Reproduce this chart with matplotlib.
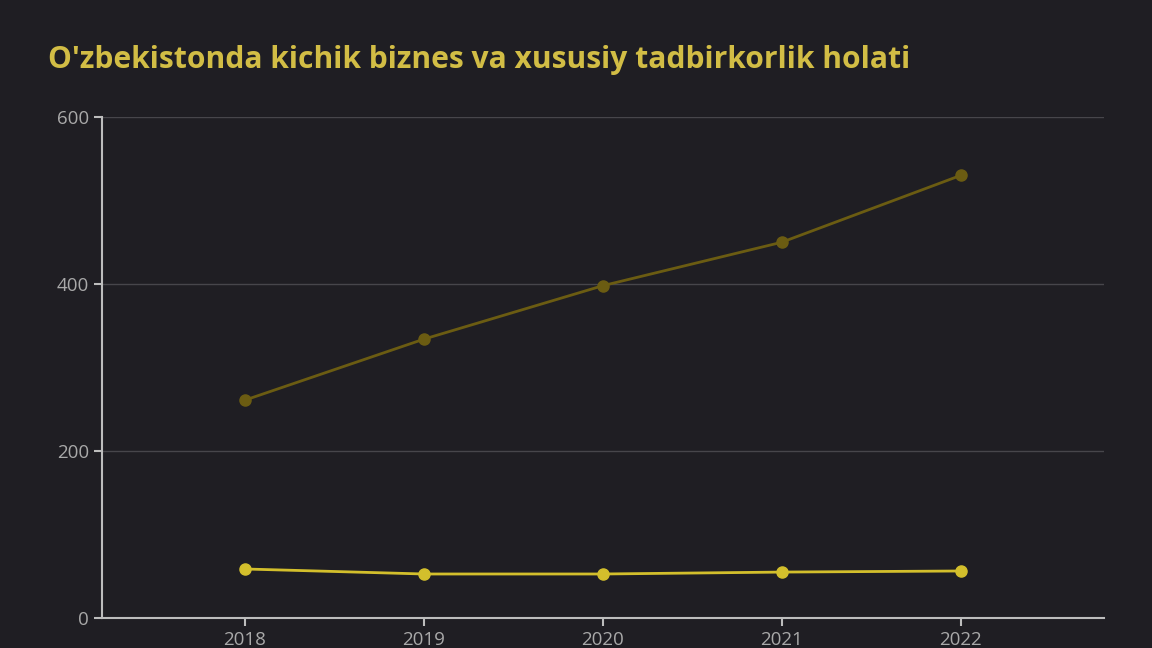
import matplotlib
matplotlib.use('Agg')
import matplotlib.pyplot as plt

years = [2018, 2019, 2020, 2021, 2022]
series_a = [261, 334, 398, 450, 530]
series_b = [58.7, 52.7, 52.7, 55.0, 56.3]
y_ticks = [0, 200, 400, 600]

title = "O'zbekistonda kichik biznes va xususiy tadbirkorlik holati"

bg = '#1f1e23'
plt.rcParams['font.family'] = ['Open Sans', 'DejaVu Sans']

fig = plt.figure(figsize=(11.52, 6.48), dpi=100, facecolor=bg)
ax = fig.add_axes([0.0885, 0.0463, 0.8695, 0.7731], facecolor=bg)

ax.plot(years, series_a, color='#6b5c12', lw=2, marker='o', ms=8, zorder=3)
ax.plot(years, series_b, color='#d3bf2c', lw=2, marker='o', ms=8, zorder=3)

ax.set_xlim(2017.2, 2022.8)
ax.set_ylim(0, 600)
ax.set_xticks(years)
ax.set_yticks(y_ticks)
ax.grid(axis='y', color='#47464b', lw=1)
ax.set_axisbelow(True)

for s in ['top', 'right']:
    ax.spines[s].set_visible(False)
for s in ['left', 'bottom']:
    ax.spines[s].set_color('#bdbdbd')
    ax.spines[s].set_linewidth(1.5)
ax.tick_params(colors='#bdbdbd', labelcolor='#a9a9a9', labelsize=13.5, length=6, width=1.5)

fig.text(0.042, 0.908, title, fontsize=21.6, fontweight='bold', color='#d2bd45',
         ha='left', va='center')

fig.savefig('out.png', dpi=100, facecolor=bg)
